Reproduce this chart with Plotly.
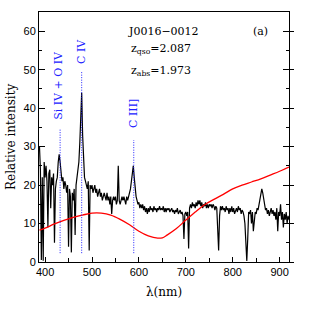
import plotly.graph_objects as go

# ---- data ----
wl = list(range(388, 921, 2))
flux = [
    30, 24, 0.5, 22, 0.3, 26, 22, 25, 21, 9,
    23, 24, 14, 22, 20, 23, 5, 19, 21, 22,
    26, 28, 26, 23, 21, 22, 19, 21, 20, 18,
    20, 4, 19, 17, 2.5, 18, 16, 19, 7, 20,
    22, 23, 26, 31, 40, 44, 33, 25, 22, 21,
    20, 19, 21, 3, 20, 19, 20, 18, 19, 20,
    18, 19, 17, 18, 19, 17, 18, 16, 17, 18,
    17, 16, 18, 16, 17, 15, 17, 12.5, 16, 17,
    16, 17, 15, 16, 25, 16, 15, 16, 17, 16,
    17, 16, 15, 17, 16, 17, 18, 19, 21, 23,
    25, 22, 19, 17, 16, 15, 15.5, 14, 15, 14,
    15, 13.5, 14.5, 13, 14, 12.5, 14, 13, 14.5, 13.5,
    14, 13, 14.5, 13.5, 14, 13, 14, 13.5, 14.5, 13.5,
    14, 13.5, 14.5, 13, 14, 13, 14, 13.5, 14, 13,
    13.5, 14, 13, 13.5, 12.5, 13.5, 13, 14, 12.5, 13,
    13.5, 12.5, 13, 12, 6, 12.5, 13, 12, 13, 3.5,
    14, 15, 14, 15.5, 14.5, 15, 14, 15.5, 14.5, 16,
    15, 16, 14.5, 15.5, 14, 15, 14.5, 15.5, 14, 15,
    14, 15, 14.5, 15, 14, 15, 14.5, 13.5, 14.5, 14,
    9, 3, 12, 14.5, 13.5, 14.5, 13.5, 14, 13, 14.5,
    13.5, 14, 12.5, 14, 13, 14.5, 13, 14, 12.5, 13.5,
    14, 13, 14.5, 13.5, 14, 12.5, 13.5, 13, 12, 10,
    2, 0.3, 6, 13, 12.5, 13.5, 10, 13, 8, 12,
    13, 12.5, 14, 13.5, 15, 16, 17.5, 19, 18, 16,
    14.5, 13.5, 14, 12.5, 13.5, 12, 13, 14, 12.5, 13.5,
    12, 13, 11, 14, 8, 13, 12, 15, 11, 13,
    9, 12.5, 11, 13, 10, 12, 11,
]

red_wl = [388, 400, 420, 440, 460, 480, 500, 520, 540, 560, 580, 600, 620, 640,
          650, 660, 680, 700, 720, 740, 760, 780, 800, 820, 840, 860, 880, 900, 920]
red_val = [8.3, 8.8, 9.9, 10.8, 11.6, 12.2, 12.7, 12.7, 12.2, 11.1, 9.7, 8.0, 6.8, 6.2,
           6.3, 7.0, 8.7, 10.9, 13.0, 14.9, 16.3, 17.6, 19.0, 20.0, 20.8, 21.6, 22.6, 23.6, 24.7]

line_names = ["Si IV + O IV", "C IV", "C III]"]
line_wl = [432, 478, 589]
line_top = [34.8, 49.4, 31.7]
line_bottom = 2.3
label_x = [427, 476, 587]
label_y = [46, 54.8, 38.7]

xticks = [400, 500, 600, 700, 800, 900]
yticks = [0, 10, 20, 30, 40, 50, 60]

SERIF = "DejaVu Serif"
SANS = "Liberation Sans"

# plot area in pixels: x 39..289, y 12..262
def px(xp):
    return (xp - 39) / 250.0
def py(yp):
    return (262 - yp) / 250.0

fig = go.Figure()
fig.add_trace(go.Scatter(x=wl, y=flux, mode="lines",
                         line=dict(color="black", width=1.2), showlegend=False))
fig.add_trace(go.Scatter(x=red_wl, y=red_val, mode="lines",
                         line=dict(color="#ff0000", width=1.3, shape="spline"),
                         showlegend=False))
for w, t in zip(line_wl, line_top):
    fig.add_trace(go.Scatter(x=[w, w], y=[line_bottom, t], mode="lines",
                             line=dict(color="#2020ff", width=1, dash="1px,1.5px"),
                             showlegend=False))
for name, lx, ly in zip(line_names, label_x, label_y):
    fig.add_annotation(x=lx, y=ly, text=name, textangle=-90, showarrow=False,
                       xanchor="center", yanchor="middle",
                       font=dict(family=SERIF, size=11, color="#2020ff"))

def note(xp, yp, text, size=11, anchor="center", angle=0):
    fig.add_annotation(x=px(xp), y=py(yp), xref="paper", yref="paper", text=text,
                       showarrow=False, xanchor=anchor, yanchor="middle",
                       textangle=angle,
                       font=dict(family=SERIF, size=size, color="black"))

note(163, 32, "J0016\u22120012")
note(260, 32, "(a)")
note(129, 49, "z<sub>qso</sub>=2.087", anchor="left")
note(129, 71, "z<sub>abs</sub>=1.973", anchor="left")
# axis titles
note(164, 292, "\u03bb(nm)", size=12)
note(11, 137, "Relative intensity", size=12, angle=-90)

fig.update_layout(
    width=316, height=316,
    margin=dict(l=39, r=27, t=12, b=54, autoexpand=False),
    paper_bgcolor="white", plot_bgcolor="white",
    xaxis=dict(range=[387, 920], tickvals=xticks, ticks="inside", ticklen=5,
               tickcolor="black", showline=True, linecolor="black", linewidth=1,
               mirror=True, showgrid=False, zeroline=False, automargin=False,
               minor=dict(dtick=50, tick0=0, ticks="inside", ticklen=4, tickcolor="black"),
               tickfont=dict(family=SANS, size=11, color="black")),
    yaxis=dict(range=[0, 65], tickvals=yticks, ticks="inside", ticklen=6,
               tickcolor="black", showline=True, linecolor="black", linewidth=1,
               mirror="allticks", showgrid=False, zeroline=False, automargin=False,
               minor=dict(dtick=5, tick0=0, ticks="inside", ticklen=3, tickcolor="black"),
               tickfont=dict(family=SANS, size=11, color="black")),
    yaxis2=dict(range=[0, 65], overlaying="y", side="right", tickvals=yticks,
                ticks="outside", ticklen=4, tickcolor="black", showticklabels=False,
                showgrid=False, zeroline=False, showline=False, automargin=False),
)
fig.add_trace(go.Scatter(x=[None], y=[None], yaxis="y2", showlegend=False))

fig.write_html("out.html",
               config={"displayModeBar": False},
               post_script="document.body.style.margin='0';document.body.style.padding='0';")
